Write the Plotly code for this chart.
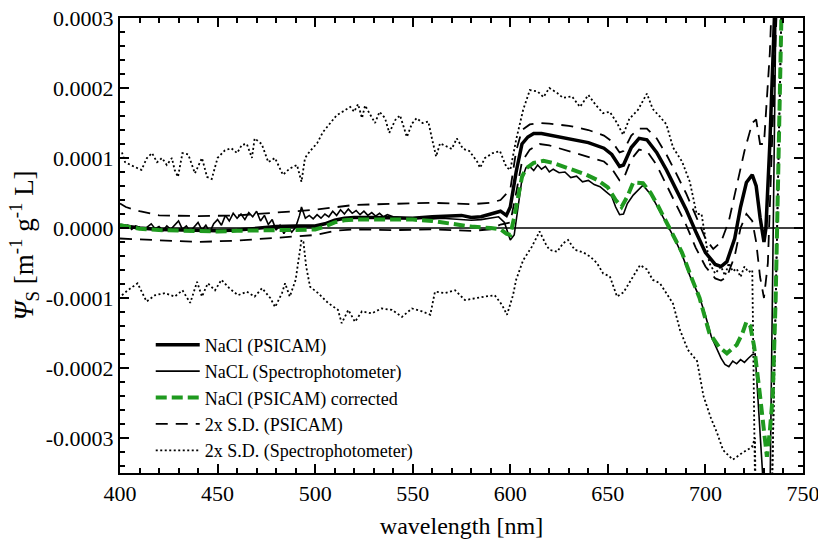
import plotly.graph_objects as go

# ---------------- data ----------------
wl_psicam = [400, 410, 420, 430, 440, 450, 460, 470, 480, 490, 500, 505, 510, 515, 520, 530, 540, 550,
             560, 570, 575, 580, 585, 590, 595, 598, 600, 603, 606, 609, 612, 616, 620, 630, 640, 648,
             652, 656, 658, 662, 666, 670, 675, 680, 685, 690, 695, 700, 705, 708, 711, 715, 718, 721,
             724, 726, 728, 730, 731, 733, 736]
psicam = [0.000004, 0.0, -0.000002, -0.000003, -0.000004, -0.000004, -0.000003, 0.0, 0.000002, 0.000003,
          0.000003, 0.000006, 0.000011, 0.000014, 0.000015, 0.000015, 0.000014, 0.000014, 0.000016,
          0.000018, 0.000018, 0.000015, 0.000016, 0.000020, 0.000024, 0.000018, 0.000030, 0.00008,
          0.00012, 0.00013, 0.000135, 0.000135, 0.000133, 0.000128, 0.000122, 0.000114, 0.000105,
          0.000088, 0.00009, 0.000115, 0.000128, 0.000126, 0.000108, 0.000083, 0.000055, 0.000027,
          -0.000005, -0.000035, -0.000052, -0.000055, -0.000048, -0.000015, 0.000030, 0.000065,
          0.000076, 0.000060, 0.000015, -0.00002, 0.0, 0.00012, 0.00035]

wl_spectro = [400, 402, 404, 406, 408, 410, 412, 414, 416, 418, 420, 422, 424, 426, 428, 430, 432, 434,
              436, 438, 440, 442, 444, 446, 448, 450, 452, 454, 456, 458, 460, 462, 464, 466, 468, 470,
              472, 474, 476, 478, 480, 482, 484, 486, 488, 490, 492, 493, 495, 497, 499, 501, 503, 505,
              507, 509, 511, 513, 515, 517, 519, 521, 523, 525, 527, 529, 531, 533, 535, 537, 540, 545,
              550, 555, 560, 565, 570, 575, 580, 585, 590, 594, 597, 600, 602, 604, 606, 608, 610, 612,
              614, 616, 618, 620, 622, 625, 628, 631, 634, 637, 640, 643, 646, 649, 652, 654, 656, 658,
              660, 663, 666, 668, 672, 676, 680, 684, 688, 692, 697, 700, 703, 706, 708, 710, 712, 714,
              716, 718, 720, 722, 724, 725.5, 729.5, 733, 736.5]
spectro = [0.000003, 0.0, 0.000004, -0.000002, 0.000003, 0.000001, -0.000003, 0.000002, 0.000006,
           -0.000001, 0.000002, -0.000004, 0.000003, -0.000002, 0.000004, 0.000010, -0.000002, 0.000003,
           -0.000005, 0.000002, 0.000008, -0.000003, 0.000004, -0.000006, 0.000006, 0.000012, 0.000004,
           0.000018, 0.000010, 0.000021, 0.000014, 0.000020, 0.000012, 0.000022, 0.000016, 0.000024,
           0.000010, 0.000018, 0.000005, 0.000012, -0.000003, 0.000004, -0.000008, 0.000002, -0.000006,
           0.000001, 0.000018, 0.000030, 0.000014, 0.000018, 0.000013, 0.000019, 0.000014, 0.000020,
           0.000016, 0.000024, 0.000018, 0.000026, 0.000020, 0.000027, 0.000021, 0.000025, 0.000019,
           0.000024, 0.000018, 0.000022, 0.000017, 0.000021, 0.000016, 0.000019, 0.000016, 0.000015,
           0.000014, 0.000015, 0.000013, 0.000014, 0.000013, 0.000012, 0.000011, 0.000012, 0.000014,
           0.000016, 0.000008, -0.000017, -0.000010, 0.000030, 0.000070, 0.000086, 0.000088, 0.000082,
           0.000090, 0.000084, 0.000088, 0.000080, 0.000084, 0.000079, 0.000080, 0.000072, 0.000074,
           0.000066, 0.000068, 0.000062, 0.000059, 0.000052, 0.000045, 0.000030, 0.000019, 0.000020,
           0.000035, 0.000047, 0.000056, 0.000061, 0.000048, 0.000028, 0.000006, -0.000014, -0.000038,
           -0.000068, -0.000099, -0.000125, -0.000155, -0.000175, -0.000186, -0.000195, -0.000198,
           -0.000190, -0.000194, -0.000188, -0.000192, -0.000186, -0.000181, -0.00018, -0.00036,
           -0.0004, 0.0004]

wl_corr = [400, 405, 410, 420, 430, 440, 450, 460, 470, 480, 490, 500, 505, 510, 515, 520, 530, 540, 550,
           560, 570, 580, 590, 595, 598, 600, 602, 604, 606, 608, 612, 617, 622, 629, 639, 645, 650, 654,
           657, 660, 663, 668, 672, 676, 680, 684, 688, 692, 697, 702, 707, 711, 716, 719, 721, 723, 725,
           728, 731.5, 733, 734.5, 736, 737.5, 739]
corrected = [0.000004, 0.000002, -0.000001, -0.000003, -0.000004, -0.000005, -0.000005, -0.000004,
             -0.000003, -0.000003, -0.000003, -0.000002, 0.000002, 0.000008, 0.000011, 0.000012, 0.000012,
             0.000012, 0.000012, 0.000010, 0.000006, 0.000002, 0.0, -0.000002, -0.000008, -0.000010,
             0.000015, 0.000045, 0.000073, 0.000085, 0.000093, 0.000096, 0.000093, 0.000086, 0.000076,
             0.000068, 0.000058, 0.000040, 0.00003, 0.000045, 0.000065, 0.000064, 0.000050, 0.000030,
             0.000008, -0.000012, -0.000035, -0.000065, -0.000100, -0.000150, -0.000170, -0.000179,
             -0.000167, -0.000150, -0.000134, -0.000140, -0.000170, -0.00024, -0.000327, -0.00029,
             -0.00024, -0.0001, 0.0001, 0.00031]

wl_sd_psicam = [400, 403, 410, 420, 440, 460, 480, 500, 520, 540, 560, 580, 590, 595, 600, 603, 606, 610,
                615, 620, 630, 640, 648, 652, 656, 658, 662, 666, 670, 675, 680, 685, 690, 695, 700, 704,
                708, 712, 716, 720, 724, 726, 728, 730, 733, 735]
sd_psicam_hi = [0.000035, 0.000030, 0.000024, 0.000018, 0.000017, 0.000018, 0.000022, 0.000026, 0.000033,
                0.000034, 0.000036, 0.000034, 0.000036, 0.000040, 0.000055, 0.000110, 0.000140, 0.000148,
                0.00015, 0.000149, 0.000146, 0.00014, 0.000132, 0.000124, 0.000108, 0.00011, 0.000132,
                0.000142, 0.000142, 0.000128, 0.000105, 0.000078, 0.000050, 0.000018, -0.000015,
                -0.000030, -0.000020, 0.000010, 0.000060, 0.000110, 0.000150, 0.000155, 0.000120,
                0.000120, 0.000250, 0.00040]
wl_sd_psicam_lo = [400, 410, 420, 440, 460, 480, 500, 510, 520, 540, 560, 580, 590, 595, 600, 603, 606,
                   610, 615, 620, 630, 640, 648, 652, 656, 658, 662, 666, 670, 675, 680, 685, 690, 695,
                   700, 705, 708, 711, 715, 718, 721, 724, 726, 728, 730, 732, 734, 737]
sd_psicam_lo = [-0.000015, -0.000016, -0.000018, -0.000020, -0.000018, -0.000014, -0.000010, -0.000004,
                -0.000002, -0.000003, -0.000002, -0.000004, -0.000002, 0.000005, 0.000008, 0.000050,
                0.000095, 0.000112, 0.00012, 0.000118, 0.00011, 0.000102, 0.000095, 0.000085, 0.000068,
                0.00007, 0.000098, 0.000112, 0.00011, 0.00009, 0.000062, 0.000032, 0.000005, -0.000028,
                -0.000055, -0.000072, -0.000075, -0.000070, -0.000040, 0.0, 0.000020, 0.000010,
                -0.000020, -0.00007, -0.00010, -0.00005, 0.00010, 0.00035]

wl_sd_spec_hi = [401, 402.6, 407.7, 411, 413.8, 416.4, 419, 421.5, 424, 426.6, 428, 429.7, 432, 435, 438.4,
                 442, 444.6, 447, 450, 453.8, 457, 460, 462.5, 465, 467.6, 469, 472.6, 476, 479.4, 483.5,
                 487, 490.7, 493, 494.8, 497.4, 500, 501, 504, 507.6, 511, 514, 518, 520, 522, 524, 525.6,
                 528, 530.7, 533, 535.8, 538, 541, 543.5, 547, 549.6, 552, 555, 558, 560, 562, 564, 567.5,
                 570, 572.6, 575.8, 579, 583, 584.5, 587, 591, 594.7, 598, 600, 603, 606.6, 610, 614, 617,
                 620, 624, 627, 631.6, 635.7, 640, 644, 647.6, 651, 654.7, 657.8, 661, 665.5, 670, 673,
                 676.7, 680, 683.4, 688, 692, 695.5, 698, 700, 702, 705, 708, 710, 712, 714, 716, 718, 720,
                 722, 724, 726.5, 732.5, 741]
sd_spec_hi = [0.000108, 0.000094, 0.000087, 0.000083, 0.0001, 0.000107, 0.000094, 0.0001, 0.00009, 0.0001,
              0.000083, 0.000073, 0.000107, 0.000105, 0.000078, 0.0001, 0.000073, 0.00007, 0.0001,
              0.000111, 0.000114, 0.000107, 0.000119, 0.00012, 0.0001, 0.000128, 0.00012, 0.000094,
              0.0001, 0.000076, 0.000085, 0.00009, 0.000066, 0.0001, 0.00011, 0.000118, 0.000121,
              0.000137, 0.00015, 0.000161, 0.000166, 0.000173, 0.000166, 0.000177, 0.000157, 0.000175,
              0.000163, 0.00015, 0.000166, 0.000157, 0.000136, 0.000154, 0.000161, 0.00013, 0.000149,
              0.000157, 0.00015, 0.000152, 0.000126, 0.000102, 0.000121, 0.000117, 0.000113, 0.000128,
              0.000113, 0.00011, 0.000095, 0.000086, 0.0001, 0.000107, 0.00011, 0.000087, 0.000083,
              0.000126, 0.000169, 0.000197, 0.000195, 0.000187, 0.0002, 0.000193, 0.000186, 0.000188,
              0.000173, 0.00019, 0.000175, 0.000164, 0.000166, 0.00015, 0.000133, 0.000156, 0.000169,
              0.000192, 0.00017, 0.000159, 0.000148, 0.000115, 0.000095, 0.000066, 0.00002, 0.00002,
              -0.000017, -0.00005, -0.000065, -0.000055, -0.000068, -0.00005, -0.000062, -0.000058,
              -0.00007, -0.000055, -0.000063, -0.00006, -0.0006, -0.0006, 0.0006]

wl_sd_spec_lo = [401, 404, 409, 413.6, 418, 423, 428, 432, 436, 439.5, 442, 445, 448.7, 452, 456, 460.5,
                 465, 469, 472.8, 477, 479.5, 483, 484.6, 487, 490, 491.4, 493, 494, 495.4, 497.4, 501.5,
                 506.6, 511.7, 513.6, 517, 520.4, 524, 529, 534, 539.4, 544.5, 549.6, 554.7, 559, 561.4,
                 566.5, 571.7, 576.8, 582, 587, 592, 595.8, 598.3, 601.4, 603, 606.6, 611, 615, 618, 620,
                 624, 627, 629.6, 633, 637.5, 641, 644.4, 647.6, 651, 654.7, 658, 662, 666.5, 670, 673,
                 676.7, 681, 683.4, 687, 691, 695.7, 699, 702.6, 706, 709, 714, 719, 723.8, 725.4, 726.5,
                 732.5, 741]
sd_spec_lo = [-0.000096, -0.000089, -0.000079, -0.000105, -0.000096, -0.000093, -0.000098, -0.000089,
              -0.000107, -0.000077, -0.000098, -0.000079, -0.000089, -0.000074, -0.000086, -0.000096,
              -0.000091, -0.000098, -0.000086, -0.0001, -0.000113, -0.000093, -0.000079, -0.000098,
              -0.000074, -0.00005, -0.000017, -0.00002, -0.000055, -0.000084, -0.000093, -0.000107,
              -0.000117, -0.000136, -0.000117, -0.000134, -0.000119, -0.000122, -0.000115, -0.000117,
              -0.000127, -0.000115, -0.000119, -0.000124, -0.000091, -0.000093, -0.000089, -0.000103,
              -0.0001, -0.000098, -0.000096, -0.00011, -0.000124, -0.000096, -0.000074, -0.000046,
              -0.000027, -0.000005, -0.000022, -0.000031, -0.000034, -0.000022, -0.000017, -0.000031,
              -0.000035, -0.000041, -0.00005, -0.000065, -0.000069, -0.000098, -0.000092, -0.000074,
              -0.000053, -0.000059, -0.000074, -0.000079, -0.000098, -0.000108, -0.000146, -0.000174,
              -0.00019, -0.00024, -0.00027, -0.000293, -0.000317, -0.000331, -0.000321, -0.000313,
              -0.0003, -0.0006, -0.0006, 0.0006]

y_tickvals = [0.0003, 0.0002, 0.0001, 0.0, -0.0001, -0.0002, -0.0003]
y_ticktext = ["0.0003", "0.0002", "0.0001", "0.0000", "-0.0001", "-0.0002", "-0.0003"]
x_tickvals = [400, 450, 500, 550, 600, 650, 700, 750]
x_ticktext = ["400", "450", "500", "550", "600", "650", "700", "750"]

names = ["NaCl (PSICAM)", "NaCL (Spectrophotometer)", "NaCl (PSICAM) corrected",
         "2x S.D. (PSICAM)", "2x S.D. (Spectrophotometer)"]

# ---------------- figure ----------------
FONT = "Liberation Serif"
GREEN = "#1f9a1f"
fig = go.Figure()

# S.D. spectrophotometer (dotted)
fig.add_trace(go.Scatter(x=wl_sd_spec_hi, y=sd_spec_hi, mode="lines", name=names[4],
                         legendgroup="sds", legendrank=5,
                         line=dict(color="black", width=1.8, dash="2px,2.5px")))
fig.add_trace(go.Scatter(x=wl_sd_spec_lo, y=sd_spec_lo, mode="lines", name=names[4],
                         legendgroup="sds", showlegend=False,
                         line=dict(color="black", width=1.8, dash="2px,2.5px")))
# S.D. PSICAM (dashed)
fig.add_trace(go.Scatter(x=wl_sd_psicam, y=sd_psicam_hi, mode="lines", name=names[3],
                         legendgroup="sdp", legendrank=4,
                         line=dict(color="black", width=1.8, dash="12px,8px")))
fig.add_trace(go.Scatter(x=wl_sd_psicam_lo, y=sd_psicam_lo, mode="lines", name=names[3],
                         legendgroup="sdp", showlegend=False,
                         line=dict(color="black", width=1.8, dash="12px,8px")))
# Spectrophotometer (thin solid)
fig.add_trace(go.Scatter(x=wl_spectro, y=spectro, mode="lines", name=names[1], legendrank=2,
                         line=dict(color="black", width=1.6)))
# PSICAM (thick solid)
fig.add_trace(go.Scatter(x=wl_psicam, y=psicam, mode="lines", name=names[0], legendrank=1,
                         line=dict(color="black", width=3.5)))
# corrected (green dashed)
fig.add_trace(go.Scatter(x=wl_corr, y=corrected, mode="lines", name=names[2], legendrank=3,
                         line=dict(color=GREEN, width=4, dash="11px,5px")))

axis_common = dict(
    showline=True, linecolor="black", linewidth=2, mirror="ticks",
    ticks="inside", ticklen=9, tickwidth=1.8, tickcolor="black",
    showgrid=False, zeroline=False, automargin=False, ticklabeloverflow="allow",
    tickfont=dict(family=FONT, size=22, color="black"),
)

fig.update_xaxes(range=[400, 750], tickmode="array", tickvals=x_tickvals, ticktext=x_ticktext,
                 minor=dict(dtick=10, ticks="inside", ticklen=5, tickwidth=1.5, tickcolor="black"),
                 title=dict(text="wavelength [nm]", font=dict(family=FONT, size=24, color="black"),
                            standoff=12),
                 **axis_common)
fig.update_yaxes(range=[-0.00035, 0.0003], tickmode="array", tickvals=y_tickvals, ticktext=y_ticktext,
                 minor=dict(dtick=0.00002, tick0=0, ticks="inside", ticklen=5, tickwidth=1.5,
                            tickcolor="black"),
                 title=dict(text="<i>Ψ</i><sub>S</sub> [m<sup>-1</sup> g<sup>-1</sup> L]",
                            font=dict(family=FONT, size=27, color="black"), standoff=4),
                 **axis_common)

# zero reference line
fig.add_hline(y=0, line=dict(color="black", width=1.6), layer="below")

fig.update_layout(
    width=818, height=539,
    margin=dict(l=120, r=15, t=18, b=66),
    paper_bgcolor="white", plot_bgcolor="white",
    showlegend=True,
    legend=dict(x=0.045, y=0.322, xanchor="left", yanchor="top",
                font=dict(family=FONT, size=18, color="black"),
                bgcolor="rgba(0,0,0,0)", borderwidth=0, tracegroupgap=0,
                traceorder="normal", itemwidth=44),
    font=dict(family=FONT, color="black"),
)

fig.write_html("out.html")
